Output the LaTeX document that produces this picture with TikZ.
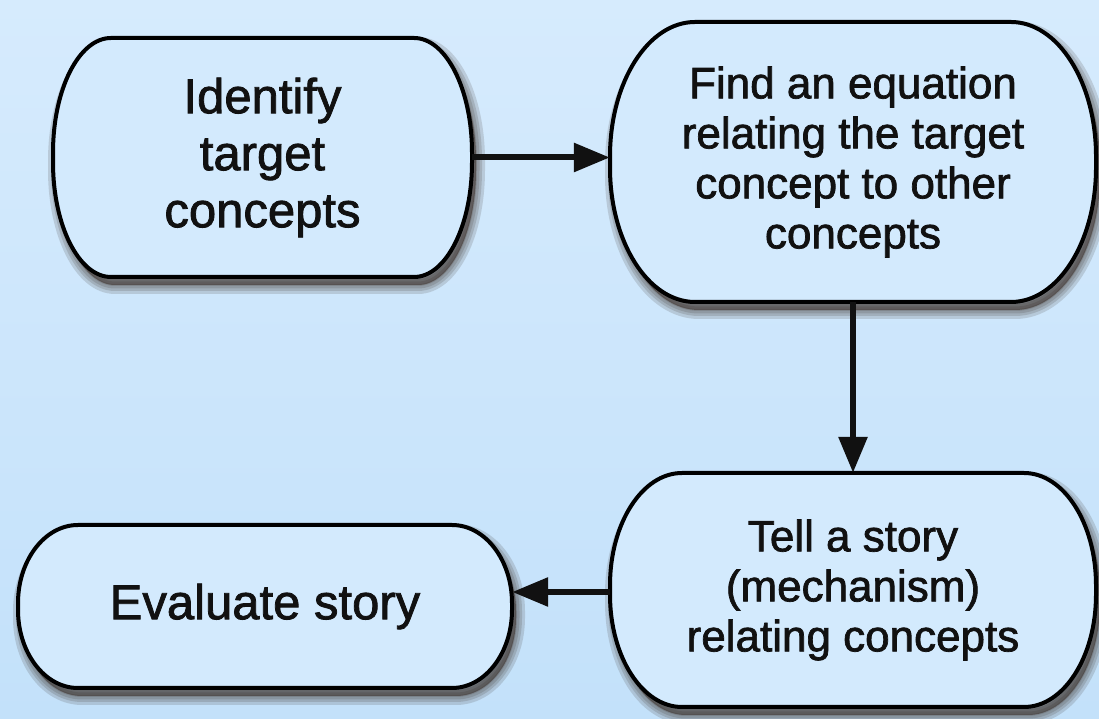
\documentclass[tikz,border=0pt]{standalone}
\usepackage{fontspec}
\setmainfont{Liberation Sans}
\usetikzlibrary{arrows.meta}

\definecolor{bgtop}{RGB}{214,235,253}
\definecolor{bgbottom}{RGB}{195,225,250}
\definecolor{boxfill}{RGB}{211,234,253}
\definecolor{shadowc}{RGB}{45,30,20}
\definecolor{ink}{RGB}{17,17,17}

% Outline of a box with elliptical ends: centre x, centre y, width, height, end radius
\newcommand\capsulepath[5]{%
  (#1-#3/2+#5, #2+#4/2) -- (#1+#3/2-#5, #2+#4/2)
  arc[start angle=90, end angle=0, x radius=#5pt, y radius=0.48*#4pt]
  -- (#1+#3/2, #2-0.02*#4)
  arc[start angle=0, end angle=-90, x radius=#5pt, y radius=0.48*#4pt]
  -- (#1-#3/2+#5, #2-#4/2)
  arc[start angle=270, end angle=180, x radius=#5pt, y radius=0.48*#4pt]
  -- (#1-#3/2, #2+0.02*#4)
  arc[start angle=180, end angle=90, x radius=#5pt, y radius=0.48*#4pt]
  -- cycle}

% One process step: name, cx, cy, width, height, end radius, font size, line skip, text
\newcommand\stage[9]{%
  \begin{scope}[shift={(4pt,-8pt)}]
    \foreach \w in {18,12,7,2}{
      \path[fill=shadowc, draw=shadowc, line width=\w pt, line join=round,
            fill opacity=0.15, draw opacity=0.15] \capsulepath{#2}{#3}{#4}{#5}{#6};
    }
  \end{scope}
  \path[boxline] \capsulepath{#2}{#3}{#4}{#5}{#6};
  \node[steptext, minimum width=#4pt, minimum height=#5pt,
        font=\fontsize{#7}{#8}\selectfont\addfontfeature{FakeBold=1.6}] (#1) at (#2,#3) {#9};
}

\tikzset{
  boxline/.style={draw=black, line width=4pt, fill=boxfill, line join=round},
  steptext/.style={align=center, text=ink, inner sep=0pt, draw=none},
  flow/.style={line width=6pt, draw=ink,
    -{Triangle[length=36pt, width=28pt]}},
}

\begin{document}
\begin{tikzpicture}[x=1pt, y=1pt]
  % background
  \fill[top color=bgtop, bottom color=bgbottom] (0,0) rectangle (1099,719);
  \useasboundingbox (0,0) rectangle (1099,719);

  \stage{ident}{262.5}{561.5}{419}{239}{58}{49}{57}{Identify\\target\\concepts}
  \stage{equation}{853}{557}{486}{280}{85}{44}{50}{Find an equation\\relating the target\\concept to other\\concepts}
  \stage{story}{853}{129}{486}{234}{72}{44}{50}{Tell a story\\(mechanism)\\relating concepts}
  \stage{evaluate}{265}{112.5}{494}{163}{60}{49}{57}{Evaluate story}

  \draw[flow] (ident.east) -- (ident.east -| equation.west);
  \draw[flow] (equation.south) -- (equation.south |- story.north);
  \draw[flow] ([yshift=-2pt]story.west) -- ([yshift=-2pt]story.west -| evaluate.east);
\end{tikzpicture}
\end{document}
